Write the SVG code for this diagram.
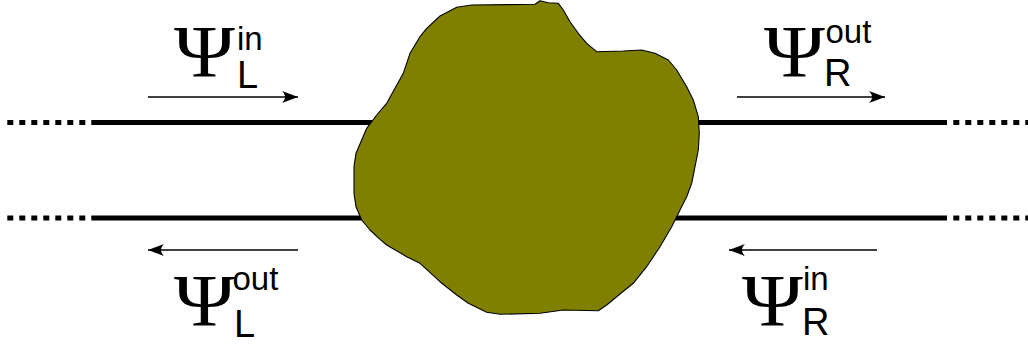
<svg xmlns="http://www.w3.org/2000/svg" width="1028" height="345" viewBox="0 0 1028 345">
  <style>
    .wire{stroke:#000;stroke-width:5;fill:none}
    .dots{stroke:#000;stroke-width:5;fill:none;stroke-dasharray:6 6}
    .flow{stroke:#000;stroke-width:1.3;fill:none}
    .psi{font-family:"Liberation Serif","Times New Roman",serif;font-size:75px;fill:#000}
    .sup{font-family:"Liberation Sans",Arial,sans-serif;font-size:33px;fill:#000}
    .sub{font-family:"Liberation Sans",Arial,sans-serif;font-size:38px;fill:#000}
  </style>
  <defs>
    <marker id="ah" viewBox="-18 -8 20 16" markerWidth="20" markerHeight="16" refX="0" refY="0" orient="auto" markerUnits="userSpaceOnUse">
      <path d="M0,0 L-16,-6 C-12,-2 -12,2 -16,6 Z" fill="#000"/>
    </marker>
  </defs>
  <g id="connectors">
    <line class="dots" x1="7.3" y1="122.5" x2="92" y2="122.5"/>
    <line class="dots" x1="7.3" y1="218" x2="92" y2="218"/>
    <line class="wire" x1="92" y1="122.5" x2="947" y2="122.5"/>
    <line class="wire" x1="92" y1="218" x2="947" y2="218"/>
    <line class="dots" x1="953.3" y1="122.5" x2="1028" y2="122.5"/>
    <line class="dots" x1="953.3" y1="218" x2="1028" y2="218"/>
    <line class="flow" x1="148" y1="97" x2="298" y2="97" marker-end="url(#ah)"/>
    <line class="flow" x1="737" y1="97" x2="885" y2="97" marker-end="url(#ah)"/>
    <line class="flow" x1="298" y1="250" x2="148" y2="250" marker-end="url(#ah)"/>
    <line class="flow" x1="877" y1="250" x2="729" y2="250" marker-end="url(#ah)"/>
  </g>
  <g id="scatterer">
    <path fill="#808000" stroke="#000" stroke-width="1.1" stroke-linejoin="round" d="M471.7,5 L535,4.3 L540,0.7 L548.3,2.7 L558.3,3.3 L563.3,10 L570,21.7 L578.3,33.3 L586.7,43.3 L596.7,51.7 L623.3,51 L641.7,50 L655,53.3 L668.3,60 L676.7,70 L686.7,86.7 L693.3,100 L698.3,116.7 L699.3,133.3 L698.3,150 L695,166.7 L691.7,183.3 L686.7,196.7 L680,210 L671.7,226.7 L660,246.7 L646.7,266.7 L633.3,283.3 L620,294 L606.7,305 L598.3,310.7 L563.3,310 L540,313.3 L500,314.3 L486.7,312.3 L468.3,303.3 L456.7,295 L440,281.7 L420,263.3 L406.7,256.7 L386.7,245 L380,239.3 L370,230 L361.7,220 L356,206.7 L354,193.3 L354,166.7 L356,153.3 L361.7,140 L366.7,128.3 L376.7,115 L386.7,103.3 L395,88.3 L403.3,73.3 L410,53.3 L420,36.7 L426.7,28.3 L440,16 L456.7,7.3 Z"/>
  </g>
  <g id="psi-L-in">
    <text class="psi" transform="translate(174,77) scale(1.1,1)">Ψ</text>
    <text class="sup" x="237" y="50">in</text>
    <text class="sub" x="237" y="88">L</text>
  </g>
  <g id="psi-R-out">
    <text class="psi" transform="translate(764,77) scale(1.1,1)">Ψ</text>
    <text class="sup" x="825.5" y="43">out</text>
    <text class="sub" x="824" y="86">R</text>
  </g>
  <g id="psi-L-out">
    <text class="psi" transform="translate(174,326) scale(1.1,1)">Ψ</text>
    <text class="sup" x="232.5" y="290">out</text>
    <text class="sub" x="234" y="337">L</text>
  </g>
  <g id="psi-R-in">
    <text class="psi" transform="translate(742,326) scale(1.1,1)">Ψ</text>
    <text class="sup" x="803" y="290">in</text>
    <text class="sub" x="802" y="335">R</text>
  </g>
</svg>
